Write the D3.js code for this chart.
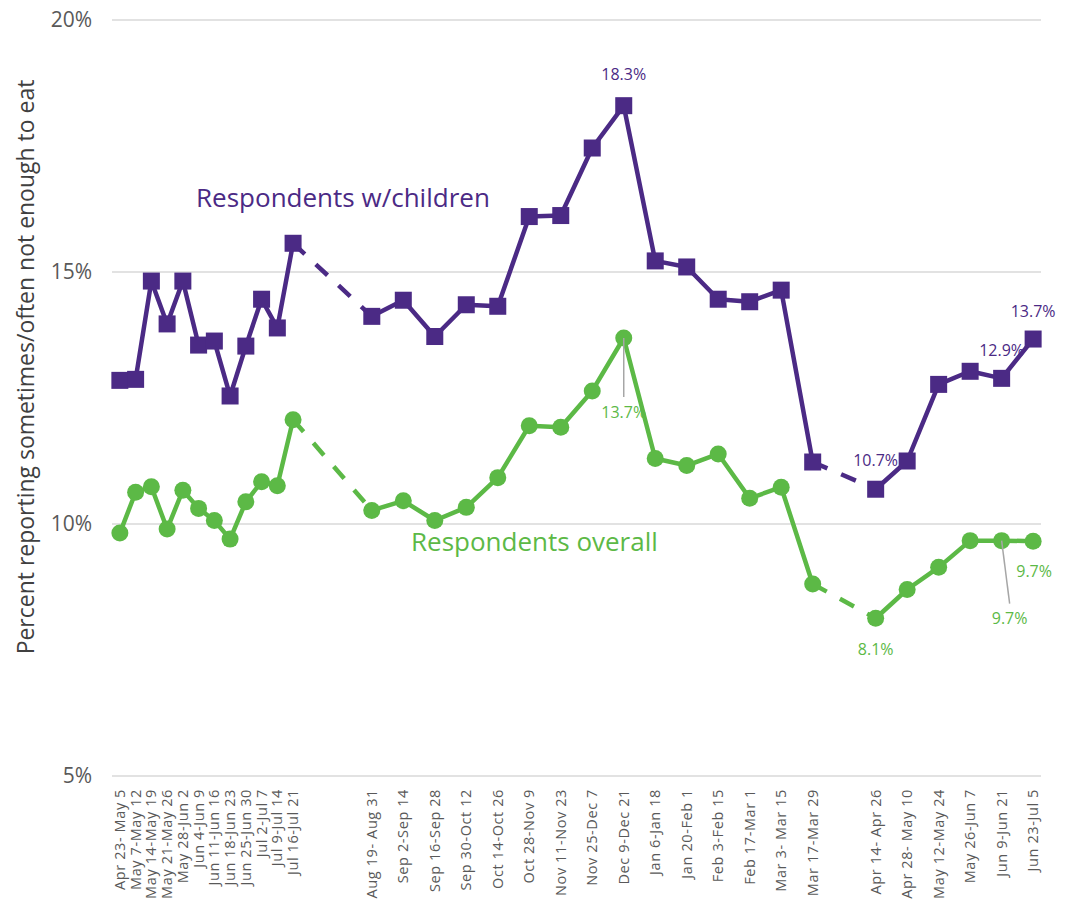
<!DOCTYPE html>
<html><head><meta charset="utf-8">
<script src="https://cdn.jsdelivr.net/npm/d3@7"></script>
<style>body{margin:0;background:#fff}svg{display:block}</style>
</head><body>
<svg id="chart" width="1070" height="909"></svg>
<script>
// Category axis (Excel-style, blank categories mark weeks with no survey)
const categories = [
  "Apr 23- May 5","May 7-May 12","May 14-May 19","May 21-May 26","May 28-Jun 2","Jun 4-Jun 9",
  "Jun 11-Jun 16","Jun 18-Jun 23","Jun 25-Jun 30","Jul 2-Jul 7","Jul 9-Jul 14","Jul 16-Jul 21",
  "","","","",
  "Aug 19- Aug 31","","Sep 2-Sep 14","","Sep 16-Sep 28","","Sep 30-Oct 12","","Oct 14-Oct 26","",
  "Oct 28-Nov 9","","Nov 11-Nov 23","","Nov 25-Dec 7","","Dec 9-Dec 21","","Jan 6-Jan 18","",
  "Jan 20-Feb 1","","Feb 3-Feb 15","","Feb 17-Mar 1","","Mar 3- Mar 15","","Mar 17-Mar 29",
  "","","",
  "Apr 14- Apr 26","","Apr 28- May 10","","May 12-May 24","","May 26-Jun 7","","Jun 9-Jun 21","","Jun 23-Jul 5"
];
const children = [
  12.85,12.87,14.82,13.97,14.82,13.55,13.63,12.54,13.53,14.46,13.89,15.57,
  null,null,null,null,
  14.12,null,14.44,null,13.72,null,14.35,null,14.32,null,16.10,null,16.12,null,17.46,null,18.30,null,
  15.22,null,15.10,null,14.46,null,14.41,null,14.64,null,11.23,
  null,null,null,
  10.69,null,11.25,null,12.77,null,13.03,null,12.89,null,13.67
];
const overall = [
  9.82,10.63,10.74,9.90,10.67,10.31,10.07,9.70,10.44,10.84,10.76,12.07,
  null,null,null,null,
  10.27,null,10.46,null,10.07,null,10.33,null,10.92,null,11.95,null,11.92,null,12.64,null,13.69,null,
  11.30,null,11.16,null,11.39,null,10.51,null,10.73,null,8.81,
  null,null,null,
  8.13,null,8.70,null,9.14,null,9.67,null,9.67,null,9.66
];
const yTicks = [5, 10, 15, 20];
const seriesNames = ["Respondents w/children", "Respondents overall"];
// data labels: categories that carry a value label
const childLabels = ["Dec 9-Dec 21", "Apr 14- Apr 26", "Jun 9-Jun 21", "Jun 23-Jul 5"];
const overallLabels = ["Dec 9-Dec 21", "Apr 14- Apr 26", "Jun 9-Jun 21", "Jun 23-Jul 5"];

const PURPLE = "#4b2a85", GREEN = "#5cb946", GRID = "#d9d9d9", TXT = "#595959";
const FONT = "'Open Sans', 'Noto Sans', sans-serif";

const svg = d3.select("#chart");
const x = d3.scaleBand().domain(d3.range(categories.length)).range([112, 1041]);
const y = d3.scaleLinear().domain([5, 20]).range([776, 20]);
const cx = i => x(i) + x.bandwidth() / 2;

// gridlines
svg.append("g").selectAll("line").data(yTicks).join("line")
  .attr("x1", 112).attr("x2", 1041)
  .attr("y1", d => y(d)).attr("y2", d => y(d))
  .attr("stroke", GRID).attr("stroke-width", 1.5);

// y tick labels
svg.append("g").selectAll("text").data(yTicks).join("text")
  .attr("x", 92).attr("y", d => y(d)).attr("dy", "0.35em")
  .attr("text-anchor", "end").attr("font-family", FONT).attr("font-size", 21)
  .attr("fill", TXT).text(d => d + "%");

// y title
const yt = svg.append("text")
  .attr("transform", "translate(26,367) rotate(-90)")
  .attr("dy", "0.35em").attr("text-anchor", "middle")
  .attr("font-family", FONT).attr("font-size", 20).attr("fill", "#404040")
  .text("Percent reporting sometimes/often not enough to eat");
function fit(sel, w) {
  const len = sel.node().getComputedTextLength();
  const fs = parseFloat(sel.attr("font-size"));
  sel.attr("font-size", fs * w / len);
}
fit(yt, 575);

// x tick labels
svg.append("g").selectAll("text")
  .data(categories.map((c, i) => ({c, i})).filter(d => d.c !== ""))
  .join("text")
  .attr("transform", d => `translate(${cx(d.i)},789) rotate(-90)`)
  .attr("dy", "0.35em").attr("text-anchor", "end")
  .attr("font-family", FONT).attr("font-size", 14.5).attr("letter-spacing", 0.6)
  .attr("fill", TXT)
  .text(d => d.c);

function drawSeries(values, color, marker) {
  const pts = values.map((v, i) => ({v, i})).filter(d => d.v !== null);
  const g = svg.append("g");
  let run = [pts[0]];
  const runs = [], dashes = [];
  for (let k = 1; k < pts.length; k++) {
    if (pts[k].i - pts[k - 1].i > 2) {
      runs.push(run); dashes.push([pts[k - 1], pts[k]]); run = [pts[k]];
    } else run.push(pts[k]);
  }
  runs.push(run);
  const line = d3.line().x(d => cx(d.i)).y(d => y(d.v));
  runs.forEach(r => g.append("path").attr("d", line(r)).attr("fill", "none")
    .attr("stroke", color).attr("stroke-width", 4.5).attr("stroke-linejoin", "round"));
  dashes.forEach(r => g.append("path").attr("d", line(r)).attr("fill", "none")
    .attr("stroke", color).attr("stroke-width", 4.5).attr("stroke-dasharray", "16,15"));
  if (marker === "square") {
    g.selectAll("rect").data(pts).join("rect")
      .attr("x", d => cx(d.i) - 8.5).attr("y", d => y(d.v) - 8.5)
      .attr("width", 17).attr("height", 17).attr("fill", color);
  } else {
    g.selectAll("circle").data(pts).join("circle")
      .attr("cx", d => cx(d.i)).attr("cy", d => y(d.v)).attr("r", 8.5).attr("fill", color);
  }
}
drawSeries(overall, GREEN, "circle");
drawSeries(children, PURPLE, "square");

// series labels
const s1 = svg.append("text").attr("x", 196).attr("y", 207)
  .attr("font-family", FONT).attr("font-size", 25).attr("fill", PURPLE).text(seriesNames[0]);
fit(s1, 294);
const s2 = svg.append("text").attr("x", 411).attr("y", 551)
  .attr("font-family", FONT).attr("font-size", 25).attr("fill", GREEN).text(seriesNames[1]);
fit(s2, 247);

// data labels
const lab = svg.append("g").attr("font-family", FONT).attr("font-size", 16).attr("text-anchor", "middle");
const idx = c => categories.indexOf(c);
const fmt = v => v.toFixed(1) + "%";
const childOff = [[0, -31], [0, -29], [0, -28], [0, -28]];
childLabels.forEach((c, k) => {
  const i = idx(c);
  lab.append("text").attr("x", cx(i) + childOff[k][0]).attr("y", y(children[i]) + childOff[k][1])
    .attr("dy", "0.35em").attr("fill", PURPLE).text(fmt(children[i]));
});
const overallOff = [[0, 74, true], [0, 31, false], [8, 78, true], [1, 30, false]];
overallLabels.forEach((c, k) => {
  const i = idx(c);
  const px = cx(i), py = y(overall[i]);
  const lx = px + overallOff[k][0], ly = py + overallOff[k][1];
  if (overallOff[k][2]) {
    lab.append("line").attr("x1", px).attr("y1", py).attr("x2", lx).attr("y2", ly - 15)
      .attr("stroke", "#a6a6a6").attr("stroke-width", 1.5);
  }
  lab.append("text").attr("x", lx).attr("y", ly).attr("dy", "0.35em")
    .attr("fill", GREEN).text(fmt(overall[i]));
});
</script>
</body></html>
